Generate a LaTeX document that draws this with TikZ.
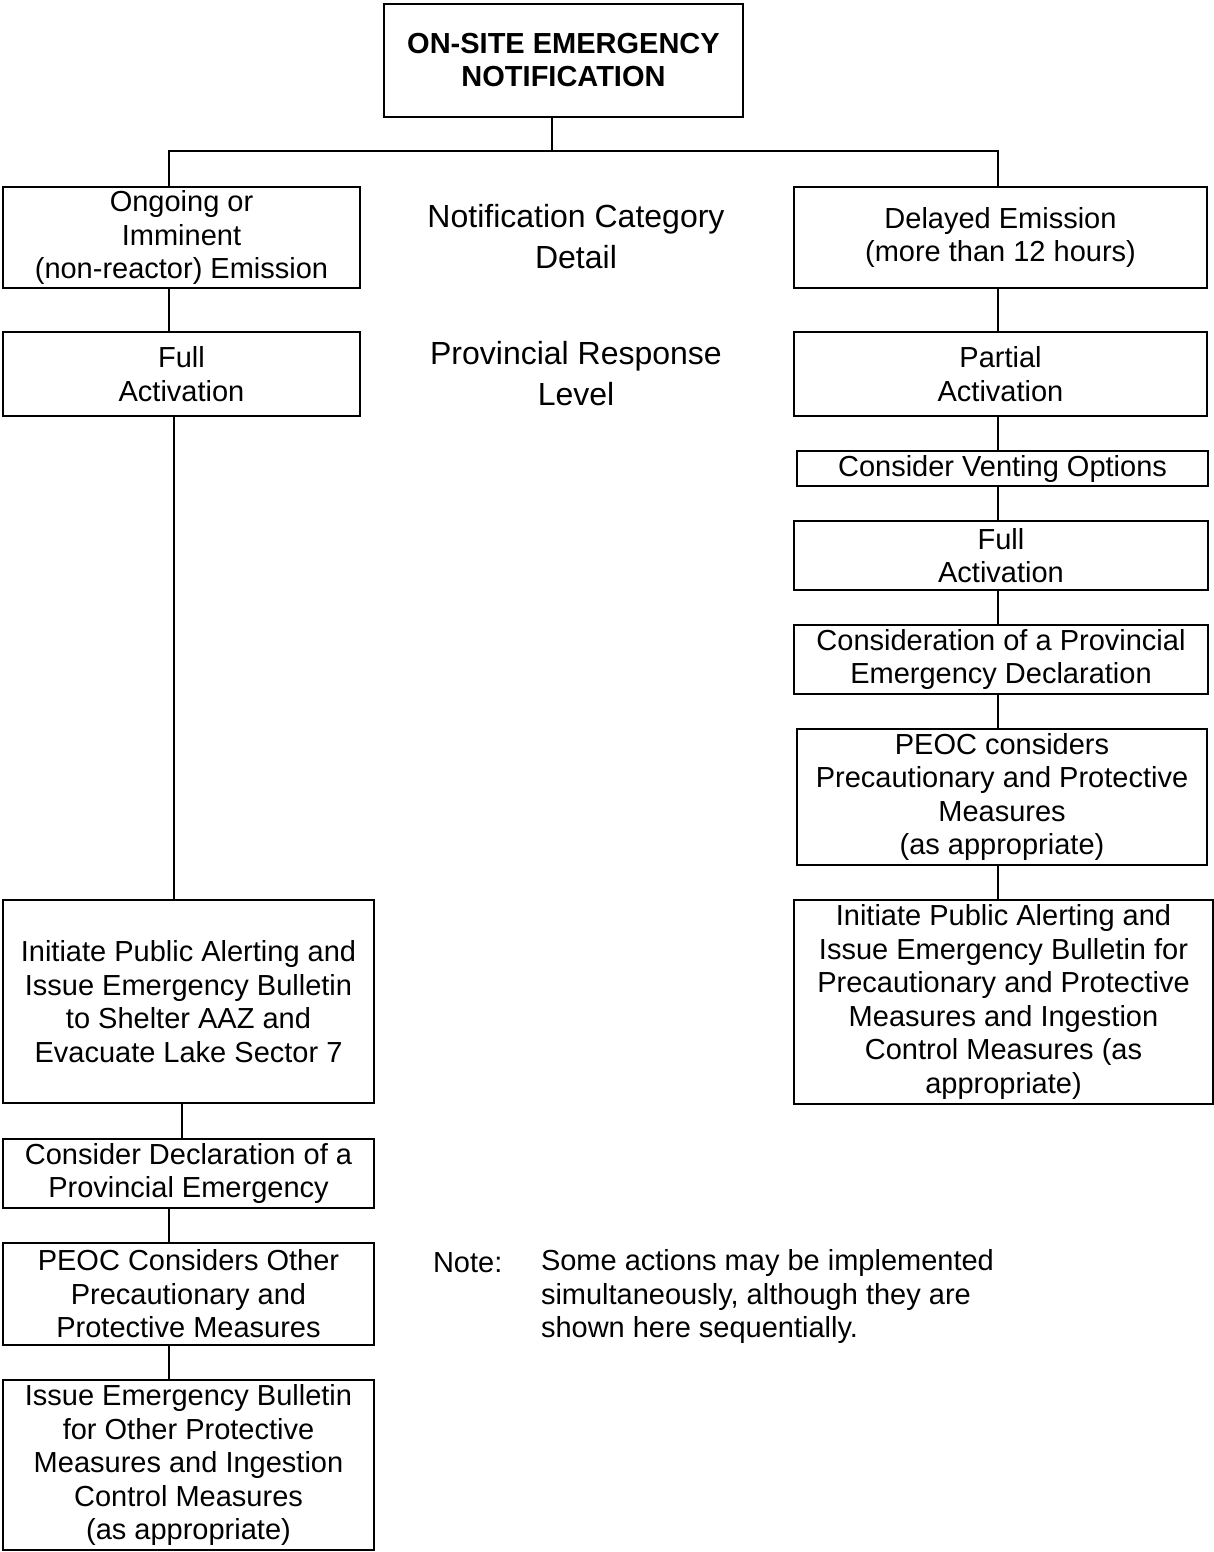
\documentclass[tikz,border=0pt]{standalone}
\usepackage{fontspec}
\setmainfont{Liberation Sans}
\usetikzlibrary{calc}

\begin{document}
\begin{tikzpicture}[
    x=0.5pt,
    y=-0.5pt,
    line width=1pt,
    stepbox/.style={
      draw,
      rectangle,
      inner sep=0,
      align=center,
      font=\fontsize{14.5}{16.75}\selectfont
    },
    headbox/.style={stepbox, font=\fontsize{14.5}{16.5}\selectfont\bfseries},
    category/.style={align=center, font=\fontsize{16}{20.5}\selectfont},
    notetext/.style={align=left, anchor=west, inner sep=0, font=\fontsize{14.5}{16.75}\selectfont}]
   \useasboundingbox (0,0) rectangle (1214,1552);

   % top of the tree
   \path
     node(top) at (563.5,60.5) [headbox, minimum width=179.5pt, minimum height=56.5pt]
       {ON-SITE EMERGENCY\\NOTIFICATION};
   \coordinate (hub) at (552,151);
   \coordinate (lbranch) at (169,151);
   \coordinate (rbranch) at (998,151);

   % left column
   \path
     node(l1) at (181.5, 237.5) [stepbox, minimum width=178.5pt, minimum height=50.5pt]
       {Ongoing or\\Imminent\\(non-reactor) Emission}
     node(l2) at (181.5, 374)   [stepbox, minimum width=178.5pt, minimum height=42pt]
       {Full\\Activation}
     node(l3) at (188.5,1001.5) [stepbox, minimum width=185.5pt, minimum height=101.5pt]
       {Initiate Public Alerting and\\Issue Emergency Bulletin\\to Shelter AAZ and\\Evacuate Lake Sector 7}
     node(l4) at (188.5,1173.5) [stepbox, minimum width=185.5pt, minimum height=34.5pt]
       {Consider Declaration of a\\Provincial Emergency}
     node(l5) at (188.5,1294)   [stepbox, minimum width=185.5pt, minimum height=51pt]
       {PEOC Considers Other\\Precautionary and\\Protective Measures}
     node(l6) at (188.5,1465)   [stepbox, minimum width=185.5pt, minimum height=85pt]
       {Issue Emergency Bulletin\\for Other Protective\\Measures and Ingestion\\Control Measures\\(as appropriate)};

   % right column
   \path
     node(r1) at (1000.5, 237.5) [stepbox, minimum width=206.5pt, minimum height=50.5pt]
       {Delayed Emission\\(more than 12 hours)}
     node(r2) at (1000.5, 374)   [stepbox, minimum width=206.5pt, minimum height=42pt]
       {Partial\\Activation}
     node(r3) at (1002.5, 468.5) [stepbox, minimum width=205.5pt, minimum height=17.5pt]
       {Consider Venting Options}
     node(r4) at (1001, 555.5)   [stepbox, minimum width=207pt, minimum height=34.5pt]
       {Full\\Activation}
     node(r5) at (1001, 659.5)   [stepbox, minimum width=207pt, minimum height=34.5pt]
       {Consideration of a Provincial\\Emergency Declaration}
     node(r6) at (1002, 797)     [stepbox, minimum width=205pt, minimum height=68pt]
       {PEOC considers\\Precautionary and Protective\\Measures\\(as appropriate)}
     node(r7) at (1003.5,1002)   [stepbox, minimum width=209.5pt, minimum height=102pt]
       {Initiate Public Alerting and\\Issue Emergency Bulletin for\\Precautionary and Protective\\Measures and Ingestion\\Control Measures (as\\appropriate)};

   % row captions
   \node(catdetail) at (576,236.5) [category] {Notification Category\\Detail};
   \node(resplevel) at (576,373.5) [category] {Provincial Response\\Level};

   \node(notehead) at (432,1263) [notetext] {Note:};
   \node(notebody) at (540,1296.5) [notetext]
     {Some actions may be implemented\\simultaneously, although they are\\shown here sequentially.};

   % connectors
   \draw (top.south -| hub) -- (hub);
   \draw (l1.north -| lbranch) -- (lbranch) -- (rbranch) -- (r1.north -| rbranch);
   \draw (l1.south -| lbranch) -- (l2.north -| lbranch);
   \draw ([xshift=-4pt]l2.south) -- ([xshift=-4pt]l2.south |- l3.north);
   \draw ([xshift=-3.25pt]l3.south) -- ([xshift=-3.25pt]l3.south |- l4.north);
   \foreach \a/\b in {l4/l5, l5/l6}
     \draw (\a.south -| lbranch) -- (\b.north -| lbranch);
   \foreach \a/\b in {r1/r2, r2/r3, r3/r4, r4/r5, r5/r6, r6/r7}
     \draw (\a.south -| rbranch) -- (\b.north -| rbranch);
\end{tikzpicture}
\end{document}
